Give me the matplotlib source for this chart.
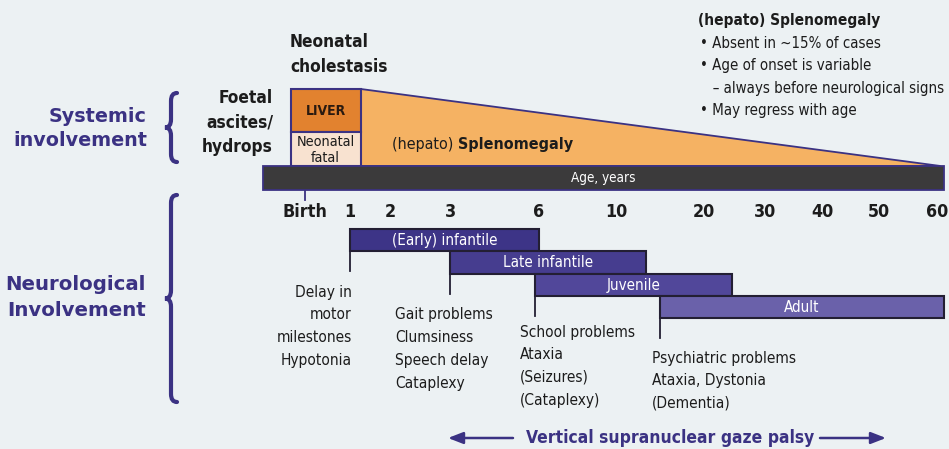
import os
import numpy as np
import matplotlib
matplotlib.use('Agg')
import matplotlib.pyplot as plt
from matplotlib.patches import Rectangle, Polygon, PathPatch
from matplotlib.path import Path
from matplotlib import font_manager
from matplotlib.font_manager import FontProperties

# ---- data ----
age_labels = ['Birth', '1', '2', '3', '6', '10', '20', '30', '40', '50', '60']
age_values = [0, 1, 2, 3, 6, 10, 20, 30, 40, 50, 60]

stages = ['(Early) infantile', 'Late infantile', 'Juvenile', 'Adult']
stage_start = [1, 3, 5.85, 15]
stage_end = [6, 13.4, 24.6, 61]

stage_symptoms = [
    ['Delay in', 'motor', 'milestones', 'Hypotonia'],
    ['Gait problems', 'Clumsiness', 'Speech delay', 'Cataplexy'],
    ['School problems', 'Ataxia', '(Seizures)', '(Cataplexy)'],
    ['Psychiatric problems', 'Ataxia, Dystonia', '(Dementia)'],
]

liver_span = [-0.32, 1.27]     # liver box, in age units
spleno_end = 60.5              # tip of the splenomegaly wedge
age_band = [-0.93, 61]

spleno_notes = ['\u2022 Absent in ~15% of cases',
                '\u2022 Age of onset is variable',
                '   \u2013 always before neurological signs',
                '\u2022 May regress with age']

# ---- age scale (piecewise, as drawn in the figure) ----
tick_px = [305, 350, 390, 450, 539, 616, 704, 765, 822, 879, 937]
scale_age = [-1] + age_values + [61]
scale_px = [260] + tick_px + [944]


def ax_x(a):
    return np.interp(a, scale_age, scale_px)


# look for a narrow / condensed face, the original uses a condensed grotesque
all_files = font_manager.findSystemFonts() + [f.fname for f in font_manager.fontManager.ttflist]
base_names = {os.path.basename(f).lower(): f for f in all_files}
candidates = [
    ('liberationsansnarrow-regular.ttf', 'liberationsansnarrow-bold.ttf', 0.9),
    ('dejavusanscondensed.ttf', 'dejavusanscondensed-bold.ttf', 0.8),
    ('robotocondensed-regular.ttf', 'robotocondensed-bold.ttf', 0.9),
]
reg_file = bold_file = None
size_k = 0.8
for r, b, k in candidates:
    if r in base_names and b in base_names:
        reg_file, bold_file, size_k = base_names[r], base_names[b], k
        break


def fp(size, bold=False):
    if reg_file:
        return FontProperties(fname=bold_file if bold else reg_file, size=size * size_k)
    return FontProperties(family=['Liberation Sans', 'DejaVu Sans'],
                          weight='bold' if bold else 'normal', size=size * 0.78)


purple = '#3b3283'
bg = '#ecf1f3'
txt = '#1c1c1c'

fig = plt.figure(figsize=(9.49, 4.49), dpi=100)
fig.patch.set_facecolor(bg)
ax = fig.add_axes([0, 0, 1, 1])
ax.set_xlim(0, 949)
ax.set_ylim(449, 0)
ax.axis('off')

# systemic part
x0, x1 = ax_x(liver_span[0]), ax_x(liver_span[1])
xt = ax_x(spleno_end)
ax.add_patch(Polygon([(x1, 89), (xt, 166), (x1, 166)], closed=True,
                     facecolor='#f5b263', edgecolor=purple, lw=1.3, zorder=2))
ax.add_patch(Rectangle((x0, 89), x1 - x0, 43, facecolor='#e2822f',
                       edgecolor=purple, lw=1.5, zorder=3))
ax.add_patch(Rectangle((x0, 132), x1 - x0, 34, facecolor='#f8e2d0',
                       edgecolor=purple, lw=1.5, zorder=3))
xm = (x0 + x1) / 2
ax.text(xm, 111, 'LIVER', ha='center', va='center', fontproperties=fp(12.5, True),
        color='#2a1a10', zorder=4)
ax.text(xm, 142, 'Neonatal', ha='center', va='center', fontproperties=fp(13),
        color=txt, zorder=4)
ax.text(xm, 158, 'fatal', ha='center', va='center', fontproperties=fp(13),
        color=txt, zorder=4)

t1 = ax.text(392, 144, '(hepato) ', ha='left', va='center', fontproperties=fp(14.4),
             color=txt, zorder=4)
ax.annotate('Splenomegaly', xy=(1, 0.5), xycoords=t1, ha='left', va='center',
            fontproperties=fp(14.4, True), color=txt, zorder=4)

for i, s in enumerate(['Neonatal', 'cholestasis']):
    ax.text(290, 42 + i * 25, s, ha='left', va='center', fontproperties=fp(15.5, True),
            color=txt)
for i, s in enumerate(['Foetal', 'ascites/', 'hydrops']):
    ax.text(273, 98 + i * 24.5, s, ha='right', va='center', fontproperties=fp(15.5, True),
            color=txt)

ax.text(698, 20, '(hepato) Splenomegaly', ha='left', va='center',
        fontproperties=fp(13.8, True), color=txt)
for i, s in enumerate(spleno_notes):
    ax.text(700, 43 + i * 22.5, s, ha='left', va='center', fontproperties=fp(13.5),
            color=txt)

# age band
ax.add_patch(Rectangle((ax_x(age_band[0]), 166), ax_x(age_band[1]) - ax_x(age_band[0]), 24,
                       facecolor='#3b3a3b', edgecolor=purple, lw=1.3, zorder=3))
ax.text(603, 178, 'Age, years', ha='center', va='center', fontproperties=fp(12.2),
        color='white', zorder=4)
ax.plot([ax_x(0), ax_x(0)], [190, 200], color=purple, lw=1.3)
for a, lab in zip(age_values, age_labels):
    ax.text(ax_x(a), 212, lab, ha='center', va='center', fontproperties=fp(16, True),
            color=txt)

# neurological stages
stage_colors = ['#3d3487', '#463d8f', '#51479a', '#6a61aa']
row_top = 229
row_h = 22.3
for i, (name, s, e) in enumerate(zip(stages, stage_start, stage_end)):
    y = row_top + i * row_h
    xs, xe = ax_x(s), ax_x(e)
    ax.add_patch(Rectangle((xs, y), xe - xs, row_h, facecolor=stage_colors[i],
                           edgecolor='#231f33', lw=1.5, zorder=3 + i))
    ax.text((xs + xe) / 2, y + row_h / 2 + 0.5, name, ha='center', va='center',
            fontproperties=fp(13.6), color='white', zorder=10)
    ax.plot([xs, xs], [y + row_h, y + row_h + 20], color='#231f33', lw=1.3, zorder=2)

sym_pos = [(352, 292, 'right'), (395, 315, 'left'), (520, 332, 'left'), (652, 358, 'left')]
for lines, (px, py, ha) in zip(stage_symptoms, sym_pos):
    for j, s in enumerate(lines):
        ax.text(px, py + j * 22.7, s, ha=ha, va='center', fontproperties=fp(13.8),
                color=txt)


# braces
def brace(xc, y0, y1, w=6, r=8):
    ym = (y0 + y1) / 2
    verts = [(xc + w, y0), (xc, y0), (xc, y0 + r), (xc, ym - r),
             (xc, ym), (xc - w, ym), (xc, ym), (xc, ym + r),
             (xc, y1 - r), (xc, y1), (xc + w, y1)]
    codes = [Path.MOVETO, Path.CURVE3, Path.CURVE3, Path.LINETO,
             Path.CURVE3, Path.CURVE3, Path.CURVE3, Path.CURVE3,
             Path.LINETO, Path.CURVE3, Path.CURVE3]
    ax.add_patch(PathPatch(Path(verts, codes), facecolor='none',
                           edgecolor=purple, lw=3, capstyle='round'))


brace(171, 93, 162)
brace(171, 195, 402)

for i, s in enumerate(['Systemic', 'involvement']):
    ax.text(147, 116 + i * 25, s, ha='right', va='center', fontsize=13.8,
            fontweight='bold', family='DejaVu Sans', color=purple)
for i, s in enumerate(['Neurological', 'Involvement']):
    ax.text(146, 285 + i * 25, s, ha='right', va='center', fontsize=14.2,
            fontweight='bold', family='DejaVu Sans', color=purple)

# gaze palsy arrow
ax.text(670, 438, 'Vertical supranuclear gaze palsy', ha='center', va='center',
        fontproperties=fp(15.7, True), color=purple)
ap = dict(arrowstyle='-|>,head_length=0.9,head_width=0.35', color=purple, lw=1.8,
          shrinkA=0, shrinkB=0)
ax.annotate('', xy=(448, 438), xytext=(513, 438), arrowprops=ap)
ax.annotate('', xy=(886, 438), xytext=(820, 438), arrowprops=ap)

fig.savefig('out.png', dpi=100, facecolor=bg)
